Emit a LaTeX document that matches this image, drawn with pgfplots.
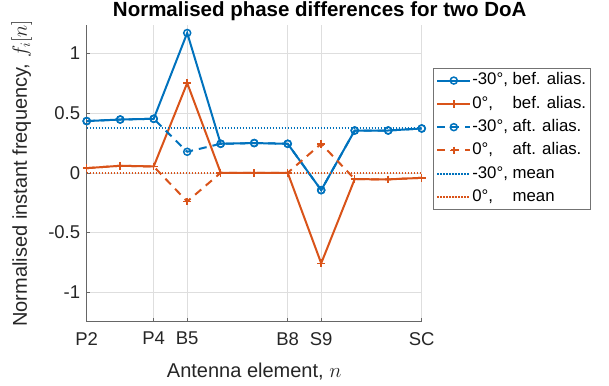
\documentclass[border=0pt]{standalone}
\usepackage{fontspec}
\setmainfont{Liberation Sans}
\usepackage{pgfplots}
\pgfplotsset{compat=1.18}
\definecolor{mblue}{RGB}{0,114,189}
\definecolor{morange}{RGB}{217,83,25}
\begin{document}
\begin{tikzpicture}
\path[use as bounding box] (-86.7pt,-63.3pt) rectangle (522.3pt,321.7pt);
\begin{axis}[
 at={(0pt,0pt)}, anchor=south west,
 scale only axis, width=335pt, height=296.7pt,
 xmin=0, xmax=10, ymin=-1.246, ymax=1.237,
 axis lines=left, axis line style={-, black!60, line width=0.8pt},
 xtick={0,2,3,6,7,10}, xticklabels={P2,P4,B5,B8,S9,SC},
 ytick={-1,-0.5,0,0.5,1}, yticklabels={-1,-0.5,0,0.5,1},
 tick align=inside, major tick length=3.5pt, tick style={black!60, line width=0.6pt},
 grid=major, major grid style={black!13, line width=0.6pt},
 ticklabel style={font=\fontsize{18.5}{22}\selectfont, text=black!85},
 xticklabel style={yshift=-7pt},
 yticklabel style={xshift=-3pt},
 legend style={at={(axis description cs:1.0337,0.855)}, anchor=north west,
   draw=black!55, line width=0.6pt, font=\fontsize{16.8}{20}\selectfont,
   inner xsep=3pt, inner ysep=3.5pt, row sep=5.8pt,
   nodes={inner sep=1pt, text height=12pt, text depth=3.5pt}},
 legend cell align=left,
 legend image code/.code={\draw[mark repeat=2,mark phase=2,#1] plot coordinates {(0pt,0pt) (16.5pt,0pt) (33pt,0pt)};},
]
\addplot[mblue, line width=2pt, mark=o, mark size=3.5pt, mark options={solid, line width=1.5pt}] coordinates {
(0,0.433) (1,0.446) (2,0.452) (3,1.17) (4,0.243) (5,0.249) (6,0.243) (7,-0.145) (8,0.354) (9,0.354) (10,0.371)};
\addlegendentry{-30°, bef. alias.}
\addplot[morange, line width=2pt, mark=+, mark size=3.8pt, mark options={solid, line width=1.5pt}] coordinates {
(0,0.039) (1,0.059) (2,0.053) (3,0.751) (4,0.0) (5,0.0) (6,0.0) (7,-0.757) (8,-0.053) (9,-0.055) (10,-0.042)};
\addlegendentry{0°,\phantom{-3} bef. alias.}
\addplot[mblue, line width=2pt, dash pattern=on 8pt off 6pt, mark=o, mark size=3.5pt, mark options={solid, line width=1.5pt}] coordinates {
(0,0.433) (1,0.446) (2,0.452) (3,0.176) (4,0.243) (5,0.249) (6,0.243) (7,-0.145) (8,0.354) (9,0.354) (10,0.371)};
\addlegendentry{-30°, aft. alias.}
\addplot[morange, line width=2pt, dash pattern=on 8pt off 6pt, mark=+, mark size=3.8pt, mark options={solid, line width=1.5pt}] coordinates {
(0,0.039) (1,0.059) (2,0.053) (3,-0.24) (4,0.0) (5,0.0) (6,0.0) (7,0.243) (8,-0.053) (9,-0.055) (10,-0.042)};
\addlegendentry{0°,\phantom{-3} aft. alias.}
\addplot[mblue, line width=2pt, dash pattern=on 1.5pt off 1.5pt] coordinates {(0,0.379) (10,0.379)};
\addlegendentry{-30°, mean}
\addplot[morange, line width=2pt, dash pattern=on 1.5pt off 1.5pt] coordinates {(0,0.002) (10,0.002)};
\addlegendentry{0°,\phantom{-3} mean}
\end{axis}
\node[anchor=base, font=\fontsize{20.5}{24}\selectfont\bfseries, text=black] at (233pt,305pt) {Normalised phase differences for two DoA};
\node[anchor=base, font=\fontsize{20}{24}\selectfont, text=black!85] at (167.5pt,-56pt) {Antenna element, $n$};
\node[anchor=base, rotate=90, font=\fontsize{20}{24}\selectfont, text=black!85] at (-59.7pt,148.35pt) {Normalised instant frequency, $f_i[n]$};
\end{tikzpicture}
\end{document}
